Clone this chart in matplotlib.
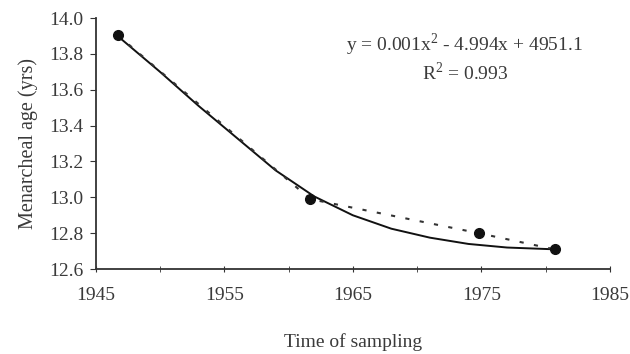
import numpy as np
import matplotlib
matplotlib.use("Agg")
import matplotlib.pyplot as plt

# observed means
years = [1946.7, 1961.7, 1974.8, 1980.7]
age = [13.905, 12.99, 12.80, 12.71]
# polynomial trendline as drawn
trend_years = [1946.7, 1950, 1953, 1956, 1959, 1962, 1965, 1968, 1971, 1974, 1977, 1980.7]
trend_age = [13.90, 13.70, 13.51, 13.33, 13.15, 13.005, 12.90, 12.825, 12.775, 12.74, 12.72, 12.71]
x_ticks = [1945, 1955, 1965, 1975, 1985]
x_minor = [1950, 1960, 1970, 1980]
y_ticks = [12.6, 12.8, 13.0, 13.2, 13.4, 13.6, 13.8, 14.0]
equation = "y = 0.001x$^2$ - 4.994x + 4951.1"
r2 = "R$^2$ = 0.993"

plt.rcParams['font.family'] = ['Liberation Serif', 'DejaVu Serif']
plt.rcParams['mathtext.fontset'] = 'custom'
plt.rcParams['mathtext.rm'] = 'Liberation Serif'

fig = plt.figure(figsize=(6.3, 3.54), dpi=100)
ax = fig.add_axes([0.152, 0.240, 0.816, 0.709])

txt = '#3a3a3a'
ax.plot(trend_years, trend_age, color='#111111', lw=1.4, zorder=2,
        solid_joinstyle='round', solid_capstyle='round')
ax.plot(years, age, color='#333333', lw=1.5, ls=(0, (2, 5)), zorder=3)
ax.plot(years, age, 'o', color='#111111', ms=7, zorder=4, ls='none')

ax.set_xlim(1945, 1985)
ax.set_ylim(12.6, 14.0)
ax.set_xticks(x_ticks)
ax.set_xticks(x_minor, minor=True)
ax.set_yticks(y_ticks)
ax.set_yticklabels([f"{v:.1f}" for v in y_ticks])
for s in ['top', 'right']:
    ax.spines[s].set_visible(False)
for s in ['left', 'bottom']:
    ax.spines[s].set_color('#333333')
    ax.spines[s].set_linewidth(1.3)
ax.tick_params(axis='x', which='both', direction='inout', length=5, color='#333333',
               labelsize=14, labelcolor=txt, pad=10.5)
ax.tick_params(axis='y', direction='out', length=4, color='#333333',
               labelsize=14, labelcolor=txt, pad=5)

ax.set_xlabel("Time of sampling", fontsize=14, color=txt, labelpad=21)
ax.set_ylabel("Menarcheal age (yrs)", fontsize=14.5, color=txt, labelpad=8)

ax.text(0.718, 0.843, equation + "\n" + r2, transform=ax.transAxes, ha='center', va='center',
        fontsize=14, color=txt, linespacing=1.2)

fig.savefig("out.png", dpi=100)
